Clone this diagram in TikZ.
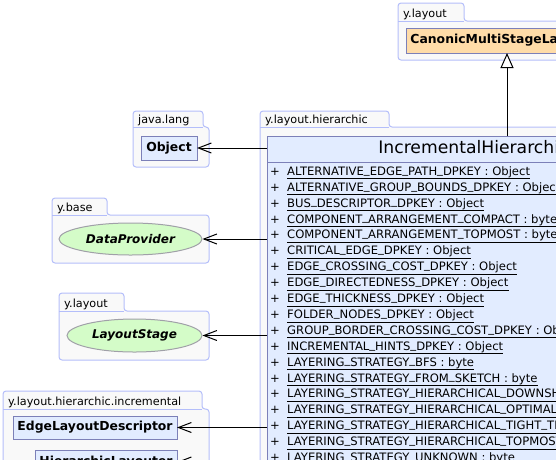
\documentclass[tikz,border=0pt]{standalone}
\usepackage{fontspec}
\setmainfont{DejaVu Sans}
\usetikzlibrary{arrows.meta, positioning, shapes.geometric}
\definecolor{PkgFill}{RGB}{249, 249, 249}
\definecolor{PkgLine}{RGB}{180, 190, 250}
\definecolor{ClassFill}{RGB}{226, 236, 255}
\definecolor{ClassLine}{RGB}{124, 128, 184}
\definecolor{IfaceFill}{RGB}{212, 252, 200}
\definecolor{IfaceLine}{RGB}{160, 160, 168}
\definecolor{SuperFill}{RGB}{255, 220, 168}

\newcommand{\us}{\raisebox{2.2pt}{\_}}
% package: name, left, tab top, tab right, body top, right, bottom, label
\newcommand{\package}[8]{%
  \filldraw[pkg] (#2,{(#5+#7)/2}) -- (#2,#3) -- (#4,#3) -- (#4,#5) -- (#6,#5) -- (#6,#7) -- (#2,#7) -- cycle;
  \draw[pkgrule] (#2,#5) -- (#4,#5);
  \node[pkglabel] (#1) at (#2+5,#5-3.5) {#8};
}

\begin{document}
\begin{tikzpicture}[x=1pt, y=-1pt,
    pkg/.style={draw=PkgLine, fill=PkgFill, line width=1pt, rounded corners=3pt},
    pkgrule/.style={draw=PkgLine, line width=1pt},
    pkglabel/.style={anchor=base west, inner sep=0pt, font=\fontsize{11.2}{13}\selectfont},
    classbox/.style={draw=ClassLine, fill=ClassFill, line width=1pt, outer sep=0pt, inner sep=0pt,
      font=\fontsize{12.4}{14}\selectfont\bfseries},
    superbox/.style={classbox, fill=SuperFill},
    iface/.style={ellipse, draw=IfaceLine, fill=IfaceFill, line width=1pt, inner sep=0pt,
      font=\fontsize{12}{14}\selectfont\bfseries\itshape},
    attr/.style={anchor=base west, inner sep=0pt, font=\fontsize{11.6}{14}\selectfont},
    uline/.style={draw, line width=0.8pt},
    dep/.style={draw, line width=1pt, -{Straight Barb[length=13pt, width=10pt, line width=1pt]}},
    gen/.style={draw, line width=1pt, -{Triangle[length=15pt, width=13pt, fill=white, line width=1pt]}}]
  \useasboundingbox (0,0) rectangle (556,459);
  \clip (0,0) rectangle (556,459);

  % Packages
  \package{pkgtop}{398}{3}{464}{21}{800}{60}{y.layout}
  \package{pkglang}{133}{111}{203}{127}{209}{167}{java.lang}
  \package{pkgbase}{52}{198}{107}{215}{209}{263}{y.base}
  \package{pkglay}{59}{293}{124}{311}{209}{360}{y.layout}
  \package{pkgincr}{3}{391}{202}{409}{209}{520}{y.layout.hierarchic.incremental}
  \package{pkghier}{260}{111}{389}{127}{800}{900}{y.layout.hierarchic}

  % Super class
  \node[superbox, minimum width=202pt, minimum height=25pt] (canon) at (507,40.5) {CanonicMultiStageLayouter};

  % Related types on the left
  \node[classbox, minimum width=56pt, minimum height=24pt] (obj) at (169,148) {Object};
  \node[iface, minimum width=143pt, minimum height=32pt] (dp) at (130.5,239) {DataProvider};
  \node[iface, minimum width=135pt, minimum height=33pt] (ls) at (134.5,335.5) {LayoutStage};
  \node[classbox, minimum width=164pt, minimum height=23pt] (eld) at (95,427.5) {EdgeLayoutDescriptor};
  \node[classbox, minimum width=142pt, minimum height=24pt] (hl) at (106,462) {HierarchicLayouter};

  % Main class
  \node[classbox, anchor=north west, minimum width=489pt, minimum height=26pt,
    font=\fontsize{17.2}{20}\selectfont] (ihlhead) at (267,136) {IncrementalHierarchicLayouter};
  \node[classbox, below=0pt of ihlhead, minimum width=489pt, minimum height=400pt] (ihl) {};

  % Fields
  \foreach \nm/\tp [count=\i from 0] in {
      ALTERNATIVE\us EDGE\us PATH\us DPKEY/Object,
      ALTERNATIVE\us GROUP\us BOUNDS\us DPKEY/Object,
      BUS\us DESCRIPTOR\us DPKEY/Object,
      COMPONENT\us ARRANGEMENT\us COMPACT/byte,
      COMPONENT\us ARRANGEMENT\us TOPMOST/byte,
      CRITICAL\us EDGE\us DPKEY/Object,
      EDGE\us CROSSING\us COST\us DPKEY/Object,
      EDGE\us DIRECTEDNESS\us DPKEY/Object,
      EDGE\us THICKNESS\us DPKEY/Object,
      FOLDER\us NODES\us DPKEY/Object,
      GROUP\us BORDER\us CROSSING\us COST\us DPKEY/Object,
      INCREMENTAL\us HINTS\us DPKEY/Object,
      LAYERING\us STRATEGY\us BFS/byte,
      LAYERING\us STRATEGY\us FROM\us SKETCH/byte,
      LAYERING\us STRATEGY\us HIERARCHICAL\us DOWNSHIFT/byte,
      LAYERING\us STRATEGY\us HIERARCHICAL\us OPTIMAL/byte,
      LAYERING\us STRATEGY\us HIERARCHICAL\us TIGHT\us TREE/byte,
      LAYERING\us STRATEGY\us HIERARCHICAL\us TOPMOST/byte,
      LAYERING\us STRATEGY\us UNKNOWN/byte} {
    \node[attr, anchor=base] (plus\i) at (275,175.3+15.9*\i) {+};
    \node[attr] (attr\i) at (287,175.3+15.9*\i) {\nm\ :\ \tp};
    \draw[uline] ([yshift=-3.5pt]attr\i.base west) -- ([yshift=-3.5pt]attr\i.base east);
  }

  % Connectors
  \draw[gen] (canon.south |- ihlhead.north) -- (canon.south);
  \draw[dep] (obj -| ihlhead.west) -- (obj);
  \draw[dep] (dp -| ihl.west) -- (dp);
  \draw[dep] (ls -| ihl.west) -- (ls);
  \draw[dep] (eld -| ihl.west) -- (eld);
  \draw[dep] (hl -| ihl.west) -- (hl);
\end{tikzpicture}
\end{document}
